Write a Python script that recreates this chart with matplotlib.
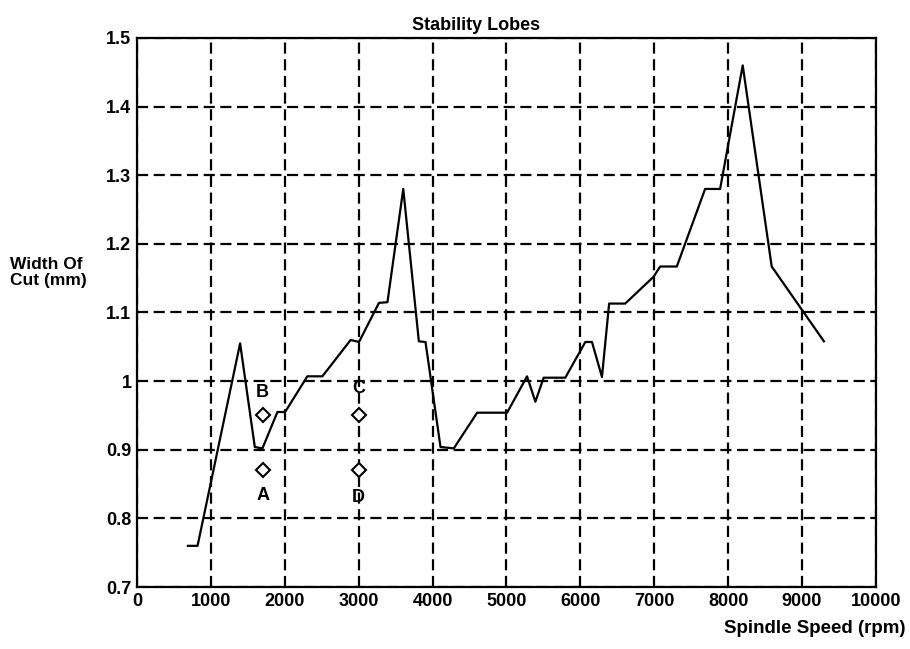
import matplotlib
matplotlib.use("Agg")
import matplotlib.pyplot as plt

plt.rcParams["font.family"] = ["Liberation Sans", "DejaVu Sans"]
plt.rcParams["font.weight"] = "bold"

# stability lobe boundary
speed_rpm = [690, 820, 1396, 1595, 1698, 1901, 2005, 2306, 2509, 2892, 3005,
             3275, 3390, 3604, 3815, 3905, 4108, 4288, 4604, 5009, 5279, 5392,
             5504, 5797, 6068, 6158, 6293, 6390, 6608, 6991, 7081, 7306, 7689,
             7892, 8198, 8590, 9297]
width_mm = [0.760, 0.760, 1.055, 0.904, 0.902, 0.955, 0.955, 1.007, 1.007,
            1.060, 1.057, 1.114, 1.115, 1.280, 1.058, 1.057, 0.904, 0.902,
            0.954, 0.954, 1.007, 0.970, 1.005, 1.005, 1.057, 1.057, 1.006,
            1.113, 1.113, 1.152, 1.167, 1.167, 1.280, 1.280, 1.460, 1.167,
            1.058]

# test cut points
point_labels = ["A", "B", "C", "D"]
point_speed = [1700, 1700, 3000, 3000]
point_width = [0.870, 0.950, 0.950, 0.870]
label_width = [0.834, 0.984, 0.989, 0.831]

fig = plt.figure(figsize=(9.1, 6.49), dpi=100)
ax = fig.add_axes([0.1505, 0.0955, 0.812, 0.846])

ax.plot(speed_rpm, width_mm, color="black", linewidth=1.6)
ax.plot(point_speed, point_width, linestyle="none", marker="D", markersize=7,
        markerfacecolor="white", markeredgecolor="black", markeredgewidth=1.5)
for lab, x, y in zip(point_labels, point_speed, label_width):
    ax.text(x, y, lab, ha="center", va="center", fontsize=13, fontweight="bold")

ax.set_xlim(0, 10000)
ax.set_ylim(0.7, 1.5)
ax.set_xticks(range(0, 10001, 1000))
ax.set_yticks([0.7, 0.8, 0.9, 1.0, 1.1, 1.2, 1.3, 1.4, 1.5])
ax.set_yticklabels(["0.7", "0.8", "0.9", "1", "1.1", "1.2", "1.3", "1.4", "1.5"])
ax.tick_params(length=0, labelsize=13, pad=4)
ax.grid(True, color="black", linestyle=(0, (5, 2.5)), linewidth=1.6)
for spine in ax.spines.values():
    spine.set_linewidth(1.6)

ax.set_title("Stability Lobes", fontsize=13, fontweight="bold", x=0.459, pad=6)
fig.text(0.011, 0.58, "Width Of\nCut (mm)", fontsize=12.5, fontweight="bold",
         ha="left", va="center", linespacing=1.05)
fig.text(0.995, 0.032, "Spindle Speed (rpm)", fontsize=13.5, fontweight="bold",
         ha="right", va="center")

fig.savefig("out.png", dpi=100)
